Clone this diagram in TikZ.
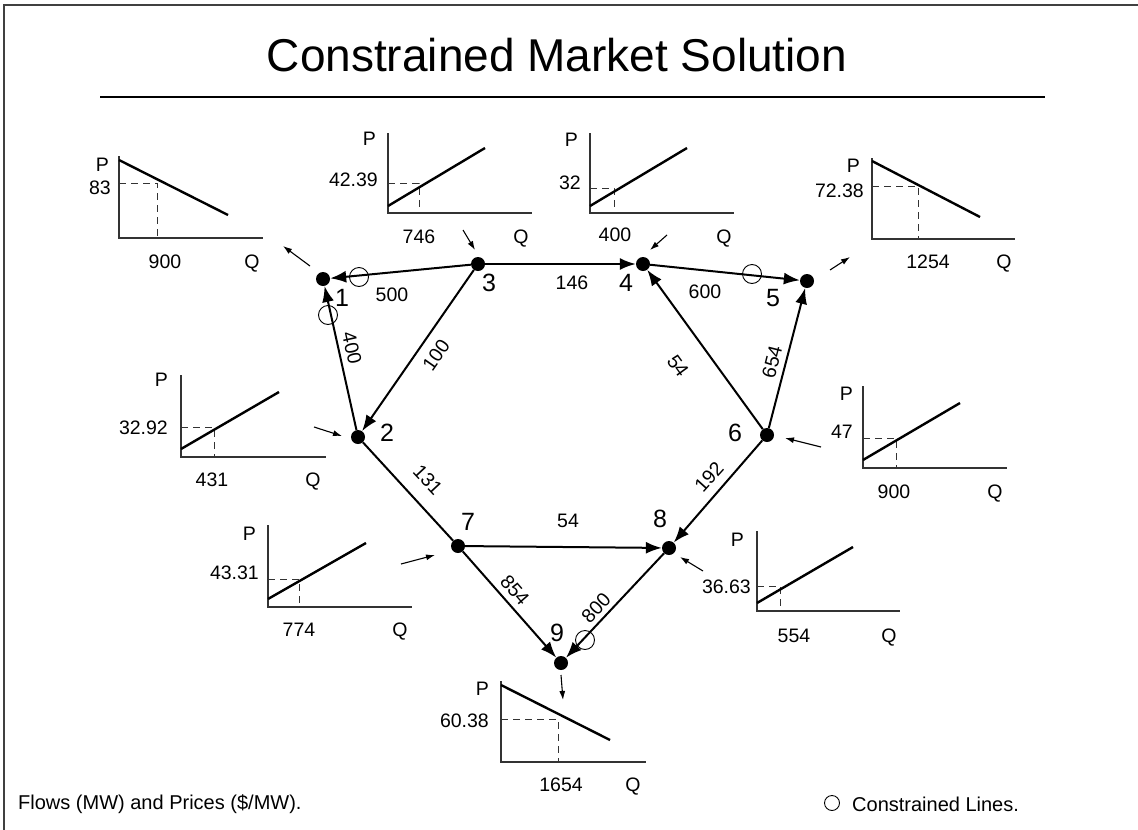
\documentclass[tikz,border=0pt]{standalone}
\usepackage{fontspec}
\setmainfont{Liberation Sans}
\usetikzlibrary{arrows.meta}
\begin{document}
\begin{tikzpicture}[x=1pt,y=-1pt,
  bus/.style={circle,fill=black,minimum size=14pt,inner sep=0pt},
  flow/.style={line width=2pt,-{Latex[length=16pt,width=12pt]}},
  plain/.style={line width=2pt},
  lbl/.style={font=\fontsize{19.5}{20}\selectfont, inner sep=0pt, text depth=0pt},
  num/.style={font=\fontsize{25}{26}\selectfont, inner sep=0pt},
  foot/.style={font=\fontsize{20}{22}\selectfont, inner sep=0pt},
  axis/.style={line width=1.8pt, draw=black!80},
  curve/.style={line width=2.4pt},
  guide/.style={line width=1pt, draw=black!80, dash pattern=on 7pt off 5pt},
  inj/.style={line width=1.1pt, -{Latex[length=9pt,width=6pt]}},
  cons/.style={circle, draw, line width=0.9pt, minimum size=19pt, inner sep=0pt},
]
\useasboundingbox (0,0) rectangle (1138,830);
% frame
\draw[line width=2pt, black!75] (4,830) -- (4,5) -- (1138,5);
% title
\node[font=\fontsize{46}{48}\selectfont, inner sep=0pt] (title) at (557,55) {Constrained Market Solution};
\draw[line width=1.4pt] (100,97) -- (1045,97);

% buses
\node[bus] (n1) at (323,279) {};
\node[bus] (n2) at (358,437) {};
\node[bus] (n3) at (478,264) {};
\node[bus] (n4) at (643,264) {};
\node[bus] (n5) at (807,281) {};
\node[bus] (n6) at (767,435) {};
\node[bus] (n7) at (458,546) {};
\node[bus] (n8) at (669,548) {};
\node[bus] (n9) at (561,663) {};

\node[num] (l1) at (342,298) {1};
\node[num] (l2) at (387,433) {2};
\node[num] (l3) at (489,283) {3};
\node[num] (l4) at (626,283) {4};
\node[num] (l5) at (773,298) {5};
\node[num] (l6) at (735,433) {6};
\node[num] (l7) at (468,522) {7};
\node[num] (l8) at (660,519) {8};
\node[num] (l9) at (557,633) {9};

% flows
\draw[flow] (n3) -- (n1);
\draw[flow] (n2) -- (n1);
\draw[flow] (n3) -- (n2);
\draw[flow] (n3) -- (n4);
\draw[flow] (n4) -- (n5);
\draw[flow] (n6) -- (n4);
\draw[flow] (n6) -- (n5);
\draw[plain] (n2) -- (n7);
\draw[flow] (n7) -- (n8);
\draw[flow] (n6) -- (n8);
\draw[flow] (n7) -- (n9);
\draw[flow] (n8) -- (n9);

% flow labels
\node[lbl] (f31) at (392,295) {500};
\node[lbl, rotate=-77.6] (f21) at (352,348) {400};
\node[lbl, rotate=55] (f32) at (436,355) {100};
\node[lbl] (f34) at (572,283) {146};
\node[lbl] (f45) at (705,292) {600};
\node[lbl, rotate=-54] (f64) at (678,366) {54};
\node[lbl, rotate=76] (f65) at (772,362) {654};
\node[lbl, rotate=-47] (f27) at (428,480) {131};
\node[lbl] (f78) at (568,521) {54};
\node[lbl, rotate=48] (f68) at (709,477) {192};
\node[lbl, rotate=-49] (f79) at (515,590) {854};
\node[lbl, rotate=47] (f89) at (596,608) {800};

% constrained lines
\node[cons] (c31) at (359,277) {};
\node[cons] (c21) at (328,315) {};
\node[cons] (c45) at (752,274) {};
\node[cons] (c89) at (585,640) {};

% injection arrows
\coordinate (a1) at (310,266); \coordinate (b1) at (283,246);
\coordinate (a3) at (463,230); \coordinate (b3) at (475,250);
\coordinate (a4) at (667,235); \coordinate (b4) at (650,250);
\coordinate (a5) at (830,270); \coordinate (b5) at (850,257);
\coordinate (a2) at (314,427); \coordinate (b2) at (342,436);
\coordinate (a7) at (401,564); \coordinate (b7) at (435,555);
\coordinate (a6) at (821,447); \coordinate (b6) at (785,438);
\coordinate (a8) at (703,571); \coordinate (b8) at (680,557);
\coordinate (a9) at (561,675); \coordinate (b9) at (563,700);
\draw[inj] (a1) -- (b1);
\draw[inj] (a3) -- (b3);
\draw[inj] (a4) -- (b4);
\draw[inj] (a5) -- (b5);
\draw[inj] (a2) -- (b2);
\draw[inj] (a7) -- (b7);
\draw[inj] (a6) -- (b6);
\draw[inj] (a8) -- (b8);
\draw[inj] (a9) -- (b9);

% graph A (bus 1)
\draw[axis] (119,156) -- (119,238) -- (263,238);
\draw[guide] (119,183) -- (157,183) -- (157,238);
\draw[curve] (119,160) -- (228,215);
\node[lbl, anchor=east] (pA) at (109,165) {P};
\node[lbl, anchor=east] (vA) at (111,188) {83};
\node[lbl] (qA) at (165,262) {900};
\node[lbl] (QA) at (252,262) {Q};

% graph B (bus 3)
\draw[axis] (388,133) -- (388,213) -- (532,213);
\draw[guide] (388,183) -- (419,183) -- (419,213);
\draw[curve] (388,206) -- (485,148);
\node[lbl, anchor=east] (pB) at (376,139) {P};
\node[lbl, anchor=east] (vB) at (378,180) {42.39};
\node[lbl] (qB) at (419,237) {746};
\node[lbl] (QB) at (521,237) {Q};

% graph C (bus 4)
\draw[axis] (590,133) -- (590,213) -- (734,213);
\draw[guide] (590,188) -- (614,188) -- (614,213);
\draw[curve] (590,206) -- (687,148);
\node[lbl, anchor=east] (pC) at (578,140) {P};
\node[lbl, anchor=east] (vC) at (581,183) {32};
\node[lbl] (qC) at (615,235) {400};
\node[lbl] (QC) at (724,237) {Q};

% graph D (bus 5)
\draw[axis] (872,158) -- (872,239) -- (1015,239);
\draw[guide] (872,186) -- (918,186) -- (918,239);
\draw[curve] (872,161) -- (980,217);
\node[lbl, anchor=east] (pD) at (860,166) {P};
\node[lbl, anchor=east] (vD) at (864,191) {72.38};
\node[lbl] (qD) at (928,262) {1254};
\node[lbl] (QD) at (1004,262) {Q};

% graph E (bus 2)
\draw[axis] (181,375) -- (181,457) -- (326,457);
\draw[guide] (181,427) -- (214,427) -- (214,457);
\draw[curve] (181,449) -- (279,392);
\node[lbl, anchor=east] (pE) at (168,380) {P};
\node[lbl, anchor=east] (vE) at (168,428) {32.92};
\node[lbl] (qE) at (212,480) {431};
\node[lbl] (QE) at (313,480) {Q};

% graph F (bus 7)
\draw[axis] (268,525) -- (268,607) -- (412,607);
\draw[guide] (268,579) -- (299,579) -- (299,607);
\draw[curve] (268,599) -- (366,543);
\node[lbl, anchor=east] (pF) at (256,534) {P};
\node[lbl, anchor=east] (vF) at (259,573) {43.31};
\node[lbl] (qF) at (299,630) {774};
\node[lbl] (QF) at (400,630) {Q};

% graph G (bus 9)
\draw[axis] (501,681) -- (501,762) -- (646,762);
\draw[guide] (501,719) -- (558,719) -- (558,762);
\draw[curve] (501,685) -- (610,740);
\node[lbl, anchor=east] (pG) at (489,689) {P};
\node[lbl, anchor=east] (vG) at (489,721) {60.38};
\node[lbl] (qG) at (561,785) {1654};
\node[lbl] (QG) at (633,785) {Q};

% graph H (bus 6)
\draw[axis] (863,386) -- (863,468) -- (1007,468);
\draw[guide] (863,438) -- (896,438) -- (896,468);
\draw[curve] (863,460) -- (960,403);
\node[lbl, anchor=east] (pH) at (853,394) {P};
\node[lbl, anchor=east] (vH) at (853,432) {47};
\node[lbl] (qH) at (894,492) {900};
\node[lbl] (QH) at (995,492) {Q};

% graph I (bus 8)
\draw[axis] (757,531) -- (757,611) -- (900,611);
\draw[guide] (757,586) -- (780,586) -- (780,611);
\draw[curve] (757,603) -- (853,547);
\node[lbl, anchor=east] (pI) at (744,540) {P};
\node[lbl, anchor=east] (vI) at (751,587) {36.63};
\node[lbl] (qI) at (794,636) {554};
\node[lbl] (QI) at (889,636) {Q};

% footer
\node[foot, anchor=west] (ftxt) at (18,804) {Flows (MW) and Prices (\$/MW).};
\node[cons, minimum size=15pt] (legc) at (832,803) {};
\node[foot, anchor=west] (legt) at (852,804) {Constrained Lines.};
\end{tikzpicture}
\end{document}
